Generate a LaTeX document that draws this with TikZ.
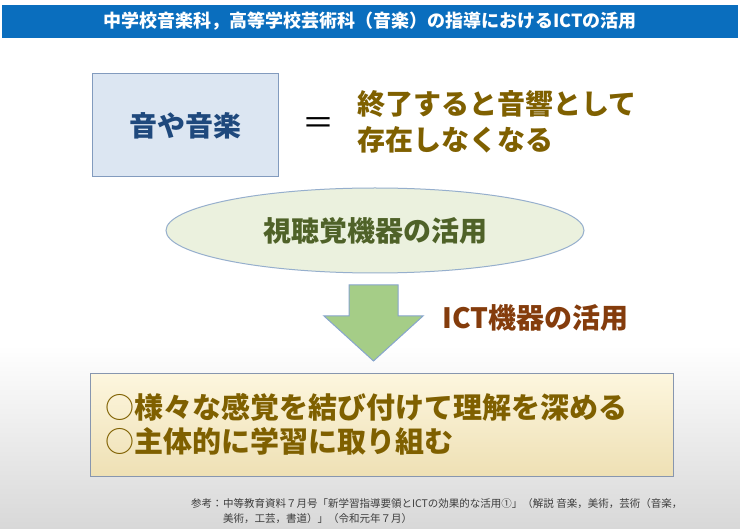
\documentclass[tikz,border=0pt]{standalone}
\usepackage{fontspec}
\setmainfont{Noto Sans CJK JP}
\usetikzlibrary{shapes.geometric}
\definecolor{titleblue}{RGB}{10,110,190}
\definecolor{soundfill}{RGB}{220,230,242}
\definecolor{soundline}{RGB}{130,155,190}
\definecolor{soundtext}{RGB}{31,73,125}
\definecolor{olivetext}{RGB}{127,96,0}
\definecolor{avfill}{RGB}{235,241,222}
\definecolor{avline}{RGB}{150,175,205}
\definecolor{avtext}{RGB}{79,98,40}
\definecolor{arrowfill}{RGB}{165,205,135}
\definecolor{arrowline}{RGB}{135,165,205}
\definecolor{icttext}{RGB}{132,60,12}
\definecolor{goaltop}{RGB}{253,246,222}
\definecolor{goalbottom}{RGB}{238,224,180}
\definecolor{goalline}{RGB}{135,150,175}
\definecolor{reftext}{RGB}{60,60,60}
\definecolor{bggray}{RGB}{216,216,216}

\begin{document}
\begin{tikzpicture}[x=1pt, y=-1pt,
    titlebar/.style={fill=titleblue, text=white, minimum width=736pt, minimum height=33pt, inner sep=0pt, font=\fontsize{18}{20}\selectfont\bfseries},
    soundbox/.style={draw=soundline, line width=1pt, fill=soundfill, minimum width=186pt, minimum height=103pt, inner sep=0pt, text=soundtext, font=\fontsize{28}{32}\selectfont\bfseries},
    avellipse/.style={ellipse, draw=avline, line width=1pt, fill=avfill, minimum width=418pt, minimum height=85pt, inner sep=0pt, text=avtext, font=\fontsize{28}{32}\selectfont\bfseries},
    goalbox/.style={draw=goalline, line width=1pt, top color=goaltop, bottom color=goalbottom, minimum width=583pt, minimum height=103pt, inner sep=0pt},
    bigtext/.style={align=left, inner sep=0pt, font=\fontsize{28}{36}\selectfont\bfseries},
    reflabel/.style={align=left, inner sep=0pt, text=reftext, font=\fontsize{10.5}{15}\selectfont}
  ]
    \useasboundingbox (0,0) rectangle (740,529);
    \fill[white] (0,0) rectangle (740,529);
    \fill[top color=white, bottom color=bggray] (0,345) rectangle (740,529);

    \node[titlebar]                 (title)  at (370,21.5) {中学校音楽科，高等学校芸術科（音楽）の指導におけるICTの活用};
    \node[inner sep=0pt, font=\fontsize{32}{32}\selectfont] (equal) at (318,126) {＝};
    \node[soundbox]                 (sound)  at (185,125.5) {音や音楽};
    \node[bigtext, text=olivetext, anchor=west] (vanish) at (357,122) {終了すると音響として\\存在しなくなる};
    \node[avellipse]                (av)     at (375,230.5) {視聴覚機器の活用};
    \filldraw[fill=arrowfill, draw=arrowline, line width=1pt]
        (349,285) -- (398,285) -- (398,316) -- (423,316) -- (373.5,361)
        -- (324,316) -- (349,316) -- cycle;
    \node[bigtext, text=icttext, anchor=west] (ict) at (442,318) {ICT機器の活用};
    \node[goalbox]                  (goal)   at (381.5,425.5) {};
    \node[align=left, inner sep=0pt, text=olivetext, anchor=west, font=\fontsize{29}{34}\selectfont\bfseries]
        (goaltext) at (105,424) {{\mdseries ○}様々な感覚を結び付けて理解を深める\\{\mdseries ○}主体的に学習に取り組む};
    \node[reflabel, anchor=north west] (refhead) at (191,498) {参考：};
    \node[reflabel, anchor=north west] (refbody) at (refhead.north east) {中等教育資料７月号「新学習指導要領とICTの効果的な活用①」（解説 音楽，美術，芸術（音楽，\\美術，工芸，書道）」（令和元年７月）};
\end{tikzpicture}
\end{document}
